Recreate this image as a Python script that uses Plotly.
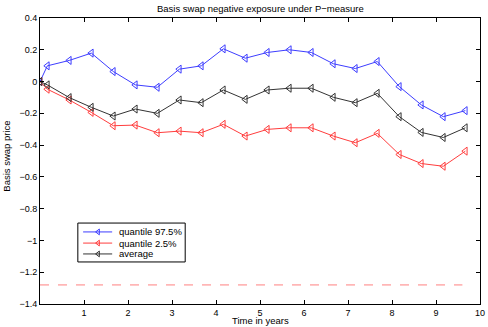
import plotly.graph_objects as go

# time grid (years)
t = [0, 0.1667, 0.6667, 1.1667, 1.6667, 2.1667, 2.6667, 3.1667, 3.6667, 4.1667, 4.6667,
     5.1667, 5.6667, 6.1667, 6.6667, 7.1667, 7.6667, 8.1667, 8.6667, 9.1667, 9.6667]

q975 = [0, 0.099, 0.133, 0.179, 0.063, -0.021, -0.036, 0.078, 0.099, 0.206, 0.147,
        0.183, 0.200, 0.183, 0.112, 0.082, 0.126, -0.032, -0.147, -0.221, -0.183]
q025 = [0, -0.048, -0.116, -0.194, -0.278, -0.274, -0.322, -0.312, -0.322, -0.269, -0.343,
        -0.301, -0.291, -0.291, -0.343, -0.385, -0.326, -0.459, -0.516, -0.533, -0.438]
avg = [0, -0.021, -0.101, -0.162, -0.217, -0.173, -0.200, -0.116, -0.133, -0.053, -0.112,
       -0.053, -0.042, -0.042, -0.099, -0.133, -0.074, -0.221, -0.320, -0.352, -0.291]

level_x = [0, 9.6]
level_y = [-1.28, -1.28]

yticks = [0.4, 0.2, 0, -0.2, -0.4, -0.6, -0.8, -1, -1.2, -1.4]
ytick_text = ["0.4", "0.2", "0", "\u22120.2", "\u22120.4", "\u22120.6", "\u22120.8", "\u22121", "\u22121.2", "\u22121.4"]

names = ["quantile 97.5%", "quantile 2.5%", "average"]
colors = ["#3d3dff", "#ff3d3d", "#333333"]

fig = go.Figure()

for y, name, color in zip([q975, q025, avg], names, colors):
    fig.add_trace(go.Scatter(
        x=t, y=y, name=name, mode="lines+markers", showlegend=False,
        line=dict(color=color, width=1),
        marker=dict(symbol="triangle-left-open", size=7, color=color, line=dict(width=1))
    ))

fig.add_trace(go.Scatter(
    x=level_x, y=level_y, mode="lines", showlegend=False,
    line=dict(color="#ff8080", width=1, dash="dash")
))

# hand-made legend box (matlab style, compact rows)
box_x0, box_x1, box_y0, box_y1 = 0.086, 0.330, 0.147, 0.283
row_y = [0.252, 0.213, 0.175]
fig.add_shape(type="rect", xref="paper", yref="paper", x0=box_x0, x1=box_x1, y0=box_y0, y1=box_y1,
              line=dict(color="black", width=1), fillcolor="white", layer="below")
for ry, name, color in zip(row_y, names, colors):
    fig.add_trace(go.Scatter(
        x=[0.098, 0.164], y=[ry, ry], xaxis="x2", yaxis="y2", mode="lines", showlegend=False,
        line=dict(color=color, width=1), hoverinfo="skip"
    ))
    fig.add_trace(go.Scatter(
        x=[0.132], y=[ry], xaxis="x2", yaxis="y2", mode="markers", showlegend=False,
        marker=dict(symbol="triangle-left-open", size=5, color=color, line=dict(width=1)),
        hoverinfo="skip"
    ))
    fig.add_annotation(x=0.175, y=ry, xref="paper", yref="paper", text=name, showarrow=False,
                       xanchor="left", yanchor="middle", font=dict(size=9.5, color="black"))

axis_common = dict(
    showgrid=False, zeroline=False, showline=True, linecolor="black", linewidth=1,
    mirror="ticks", ticks="inside", ticklen=4, tickcolor="black", automargin=False,
    tickfont=dict(size=9, color="black")
)

fig.add_annotation(text="Basis swap negative exposure under P\u2212measure", x=0.5, y=1,
                   xref="paper", yref="paper", yshift=10, showarrow=False,
                   xanchor="center", yanchor="middle", font=dict(size=9.5))
fig.add_annotation(text="Time in years", x=0.5, y=0, xref="paper", yref="paper", yshift=-16,
                   showarrow=False, xanchor="center", yanchor="middle", font=dict(size=9.5))
fig.add_annotation(text="Basis swap price", x=0, y=0.515, xref="paper", yref="paper", xshift=-33,
                   textangle=-90, showarrow=False, xanchor="center", yanchor="middle",
                   font=dict(size=9.5))

fig.update_layout(
    width=488, height=327,
    margin=dict(l=40, r=8, t=18, b=23),
    paper_bgcolor="white", plot_bgcolor="white",
    font=dict(family="Liberation Sans, Arial, sans-serif", size=9, color="black"),
    showlegend=False,
    xaxis=dict(range=[0, 10], tickvals=list(range(1, 11)), **axis_common),
    yaxis=dict(range=[-1.4, 0.4], tickvals=yticks, ticktext=ytick_text, **axis_common),
    xaxis2=dict(range=[0, 1], overlaying="x", visible=False, fixedrange=True, automargin=False),
    yaxis2=dict(range=[0, 1], overlaying="y", visible=False, fixedrange=True, automargin=False),
)

# drop the default page margin so the figure sits at the window's corner
fig.write_html("out.html", config={"displayModeBar": False},
               post_script="document.body.style.margin='0';")
